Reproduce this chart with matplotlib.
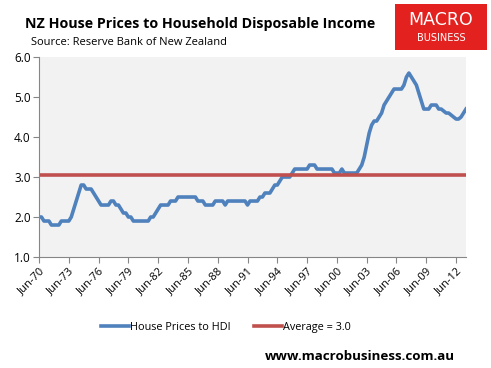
import matplotlib
matplotlib.use('Agg')
import matplotlib.pyplot as plt
from matplotlib.patches import Rectangle
import numpy as np

# quarterly ratio, Jun-70 .. Jun-13
hdi_ratio = [
    2.0, 2.0, 1.9,            # 1970
    1.9, 1.9, 1.8, 1.8,       # 1971
    1.8, 1.8, 1.9, 1.9,       # 1972
    1.9, 1.9, 2.0, 2.2,       # 1973
    2.4, 2.6, 2.8, 2.8,       # 1974
    2.7, 2.7, 2.7, 2.6,       # 1975
    2.5, 2.4, 2.3, 2.3,       # 1976
    2.3, 2.3, 2.4, 2.4,       # 1977
    2.3, 2.3, 2.2, 2.1,       # 1978
    2.1, 2.0, 2.0, 1.9,       # 1979
    1.9, 1.9, 1.9, 1.9,       # 1980
    1.9, 1.9, 2.0, 2.0,       # 1981
    2.1, 2.2, 2.3, 2.3,       # 1982
    2.3, 2.3, 2.4, 2.4,       # 1983
    2.4, 2.5, 2.5, 2.5,       # 1984
    2.5, 2.5, 2.5, 2.5,       # 1985
    2.5, 2.4, 2.4, 2.4,       # 1986
    2.3, 2.3, 2.3, 2.3,       # 1987
    2.4, 2.4, 2.4, 2.4,       # 1988
    2.3, 2.4, 2.4, 2.4,       # 1989
    2.4, 2.4, 2.4, 2.4,       # 1990
    2.4, 2.3, 2.4, 2.4,       # 1991
    2.4, 2.4, 2.5, 2.5,       # 1992
    2.6, 2.6, 2.6, 2.7,       # 1993
    2.8, 2.8, 2.9, 3.0,       # 1994
    3.0, 3.0, 3.0, 3.1,       # 1995
    3.2, 3.2, 3.2, 3.2,       # 1996
    3.2, 3.2, 3.3, 3.3,       # 1997
    3.3, 3.2, 3.2, 3.2,       # 1998
    3.2, 3.2, 3.2, 3.2,       # 1999
    3.1, 3.1, 3.1, 3.2,       # 2000
    3.1, 3.1, 3.1, 3.1,       # 2001
    3.1, 3.1, 3.2, 3.3,       # 2002
    3.5, 3.8, 4.1, 4.3,       # 2003
    4.4, 4.4, 4.5, 4.6,       # 2004
    4.8, 4.9, 5.0, 5.1,       # 2005
    5.2, 5.2, 5.2, 5.2,       # 2006
    5.3, 5.5, 5.6, 5.5,       # 2007
    5.4, 5.3, 5.1, 4.9,       # 2008
    4.7, 4.7, 4.7, 4.8,       # 2009
    4.8, 4.8, 4.7, 4.7,       # 2010
    4.65, 4.6, 4.6, 4.55,     # 2011
    4.5, 4.45, 4.45, 4.5,     # 2012
    4.6, 4.7,                 # 2013
]
average = 3.05
tick_labels = ['Jun-70', 'Jun-73', 'Jun-76', 'Jun-79', 'Jun-82', 'Jun-85', 'Jun-88',
               'Jun-91', 'Jun-94', 'Jun-97', 'Jun-00', 'Jun-03', 'Jun-06', 'Jun-09', 'Jun-12']

plt.rcParams['font.family'] = ['Open Sans', 'DejaVu Sans']

quarters = np.arange(len(hdi_ratio))

fig = plt.figure(figsize=(4.91, 3.68), dpi=100)
ax = fig.add_axes([0.0794, 0.3016, 0.8697, 0.5434])
ax.set_facecolor('#F2F2F2')

ax.plot(quarters, hdi_ratio, color='#4F81BD', lw=2.6, label='House Prices to HDI',
        solid_joinstyle='round')
ax.plot([quarters[0], quarters[-1]], [average, average], color='#C0504D', lw=2.6,
        label='Average = 3.0')

ax.set_xlim(0, len(hdi_ratio) - 1)
ax.set_ylim(1.0, 6.0)
ax.set_yticks(np.arange(1.0, 6.01, 1.0))
ax.set_yticklabels([f'{v:.1f}' for v in np.arange(1.0, 6.01, 1.0)], fontsize=8.5)
ax.set_xticks(np.arange(0, 12 * len(tick_labels), 12))
ax.set_xticklabels(tick_labels, rotation=45, ha='right', rotation_mode='anchor', fontsize=8)

for s in ['top', 'right']:
    ax.spines[s].set_visible(False)
for s in ['left', 'bottom']:
    ax.spines[s].set_color('#868686')
ax.tick_params(axis='both', color='#868686', length=4, width=0.8, pad=2)

fig.text(0.051, 0.935, 'NZ House Prices to Household Disposable Income',
         fontsize=10.3, fontweight='bold', va='center')
fig.text(0.063, 0.884, 'Source: Reserve Bank of New Zealand', fontsize=8, va='center')

# logo
fig.patches.append(Rectangle((0.805, 0.865), 0.186, 0.125, transform=fig.transFigure,
                             facecolor='#E3221F', edgecolor='none'))
fig.text(0.898, 0.947, 'MACRO', color='white', fontsize=12.5, ha='center', va='center',
         family='DejaVu Sans')
fig.text(0.898, 0.897, 'BUSINESS', color='white', fontsize=7, ha='center', va='center',
         family='DejaVu Sans')

ax.legend(loc='center', bbox_to_anchor=(0.46, 0.111), bbox_transform=fig.transFigure,
          ncol=2, frameon=False, fontsize=7.8, handlelength=2.6, handletextpad=0.1,
          columnspacing=2.1)

fig.text(0.927, 0.03, 'www.macrobusiness.com.au', fontsize=9.6, fontweight='bold',
         ha='right', va='center')

plt.savefig('out.png', dpi=100)
